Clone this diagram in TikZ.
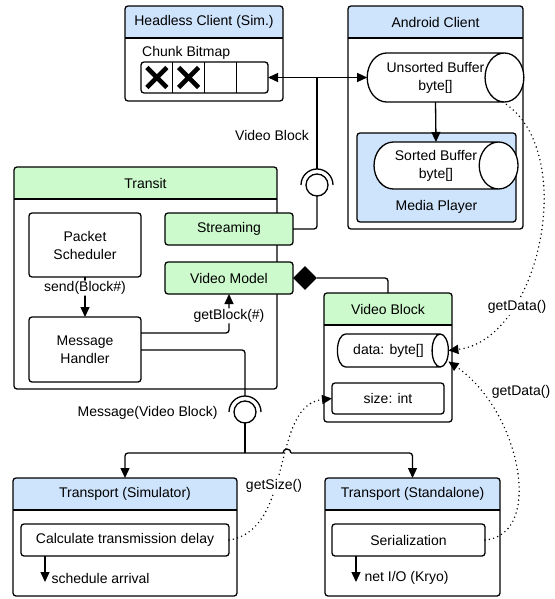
\documentclass[tikz,border=0pt]{standalone}
\usepackage{fontspec}
\setmainfont{Liberation Sans}
\usetikzlibrary{arrows.meta,shapes.geometric}
\definecolor{hdrblue}{RGB}{206,227,252}
\definecolor{hdrgreen}{RGB}{204,250,204}

\tikzset{
  panel/.style={rectangle, inner sep=0pt, outer sep=0pt},
  part/.style={draw, rectangle, rounded corners=3pt, fill=white, line width=1.3pt,
    inner sep=0pt, outer sep=0pt, align=center},
  buffer/.style={cylinder, draw, fill=white, line width=1.3pt, shape aspect=1.25,
    inner sep=0pt, outer sep=0pt, align=center},
  ball/.style={circle, draw, line width=1.3pt, minimum size=22pt, inner sep=0pt, outer sep=0pt},
  link/.style={line width=1.3pt, rounded corners=3pt},
  arrowed/.style={-{Triangle[length=10pt,width=9pt]}},
  call/.style={line width=1.6pt, dash pattern=on 0pt off 4.4pt, line cap=round},
  callout/.style={fill=white, inner sep=1pt},
}

% header strip and frame of a panel node
\newcommand{\panelhead}[3]{%
  \begin{scope}
    \clip[rounded corners=3pt] (#1.north west) rectangle (#1.south east);
    \fill[#2] (#1.north west) rectangle ([yshift=-32pt]#1.north east);
  \end{scope}
  \draw[line width=1.3pt] ([yshift=-32pt]#1.north west) -- ([yshift=-32pt]#1.north east);
  \draw[line width=1.3pt, rounded corners=3pt] (#1.north west) rectangle (#1.south east);
  \node (#1title) at ([yshift=-16pt]#1.north) {#3};
}

\begin{document}
\begin{tikzpicture}[x=1pt, y=-1pt, font=\fontsize{14}{18}\selectfont]
  \useasboundingbox (0,0) rectangle (554,599);

  % headless client
  \node[panel, minimum width=158pt, minimum height=95pt] (headless) at (204,53.5) {};
  \panelhead{headless}{hdrblue}{Headless Client (Sim.)}
  \node[anchor=west, inner sep=0pt] (bitlbl) at (142,53) {Chunk Bitmap};
  \node[part, minimum width=127pt, minimum height=31pt] (bitmap) at (204.5,77.5) {};
  \foreach \i in {1,2,3}
    \draw[line width=1.3pt] ([xshift=\i*31.75pt]bitmap.north west) -- ([xshift=\i*31.75pt]bitmap.south west);
  \foreach \i in {0,1}
    \draw[line width=4.5pt] ([xshift=\i*31.75pt+15.9pt]bitmap.west) ++(-10pt,-10pt) -- ++(20pt,20pt)
      ++(-20pt,0pt) -- ++(20pt,-20pt);

  % android client
  \node[panel, minimum width=175pt, minimum height=223pt] (android) at (435.5,117.5) {};
  \panelhead{android}{hdrblue}{Android Client}
  \node[buffer, minimum height=143pt, minimum width=49pt] (unsorted) at (435.5,77.5) {Unsorted Buffer\\byte[]};
  \node[part, fill=hdrblue, minimum width=159pt, minimum height=89pt] (player) at (436.5,177.5) {};
  \node[buffer, minimum height=144pt, minimum width=47pt] (sorted) at (436,165.5) {Sorted Buffer\\byte[]};
  \node (playerlbl) at (436.5,207) {Media Player};

  % transit
  \node[panel, minimum width=263pt, minimum height=222pt] (transit) at (145.5,278) {};
  \panelhead{transit}{hdrgreen}{Transit}
  \node[part, minimum width=112pt, minimum height=64pt] (sched) at (85,245) {Packet\\Scheduler};
  \node[part, minimum width=112pt, minimum height=65pt] (handler) at (85,349.5) {Message\\Handler};
  \node[part, fill=hdrgreen, minimum width=128pt, minimum height=32pt] (streaming) at (229,229) {Streaming};
  \node[part, fill=hdrgreen, minimum width=128pt, minimum height=32pt] (vmodel) at (229,278) {Video Model};

  % video block
  \node[panel, minimum width=128pt, minimum height=129pt] (vblock) at (388,357.5) {};
  \panelhead{vblock}{hdrgreen}{Video Block}
  \node[buffer, minimum height=111pt, minimum width=33pt] (data) at (388.5,350.5) {data: byte[]};
  \node[part, minimum width=112pt, minimum height=31pt] (sizefield) at (388,398.5) {size: int};

  % transports
  \node[panel, minimum width=224pt, minimum height=118pt] (tsim) at (125,537) {};
  \panelhead{tsim}{hdrblue}{Transport (Simulator)}
  \node[part, minimum width=208pt, minimum height=32pt] (delay) at (125,540) {Calculate transmission delay};
  \node[panel, minimum width=175pt, minimum height=118pt] (tstd) at (412.5,537) {};
  \panelhead{tstd}{hdrblue}{Transport (Standalone)}
  \node[part, minimum width=153pt, minimum height=32pt] (serial) at (408.5,540) {Serialization};

  % sockets
  \node[ball] (sockA) at (317,185) {};
  \node[ball] (sockB) at (245,412) {};
  \foreach \s in {sockA,sockB}
    \draw[line width=1.3pt] ([xshift=-16pt]\s.center) arc[start angle=180, end angle=0, radius=16pt];
  \coordinate (vbjoin) at (317,78);
  \coordinate (msjoin) at (245,453);
  \coordinate (hop) at (287,453);

  % video block stream
  \draw[link, {Triangle[length=10pt,width=9pt]}-{Triangle[length=10pt,width=9pt]}] (bitmap.east) -- (unsorted.west);
  \draw[link] (vbjoin) -- ([yshift=16pt]sockA.center);
  \draw[link] (sockA.south) |- (streaming.east);
  \draw[link, arrowed] (unsorted.south) -- (sorted.north);
  \node (vblbl) at (272,135) {Video Block};

  % inside transit
  \draw[link, arrowed] (sched.south) -- (handler.north) node[pos=0.28, callout] {send(Block\#)};
  \draw[link, arrowed] ([yshift=16.5pt]handler.east) -| (vmodel.south) node[pos=0.72, callout] {getBlock(\#)};
  \node[diamond, fill=black, minimum width=24pt, minimum height=24pt, inner sep=0pt] (comp) at (305,278) {};
  \draw[link] (comp.east) -| (vblock.north);

  % messages to transports
  \draw[link] ([yshift=-0.5pt]handler.east) -| ([yshift=16pt]sockB.center);
  \node[anchor=east] (msglbl) at (221,413) {Message(Video Block)};
  \draw[link] (sockB.south) -- (msjoin);
  \draw[link, arrowed] (msjoin) -| (tsim.north);
  \draw[line width=1.3pt] (msjoin) -- ([xshift=-4pt]hop) arc[start angle=180, end angle=0, radius=4pt];
  \draw[link, arrowed] ([xshift=4pt]hop) -| (tstd.north);

  % transport outputs
  \coordinate (arrivalend) at (45,582);
  \draw[link, arrowed] (delay.south -| arrivalend) -- (arrivalend);
  \node[anchor=west] (arrival) at (48,578) {schedule arrival};
  \coordinate (kryoend) at (356,582);
  \draw[link, arrowed] (serial.south -| kryoend) -- (kryoend);
  \node[anchor=west] (kryo) at (361,578) {net I/O (Kryo)};

  % dotted calls
  \draw[call, arrowed] (unsorted.-20) .. controls (580,150) and (540,340) .. (data.east);
  \draw[call, arrowed] (serial.east) .. controls (545,535) and (520,410) .. ([yshift=-11pt]data.east);
  \draw[call, arrowed] (delay.east) .. controls (295,530) and (270,405) .. (sizefield.west);
  \node[callout] (getdataA) at (517,307) {getData()};
  \node[callout] (getdataB) at (521,392) {getData()};
  \node[callout] (getsize) at (274,486) {getSize()};
\end{tikzpicture}
\end{document}
